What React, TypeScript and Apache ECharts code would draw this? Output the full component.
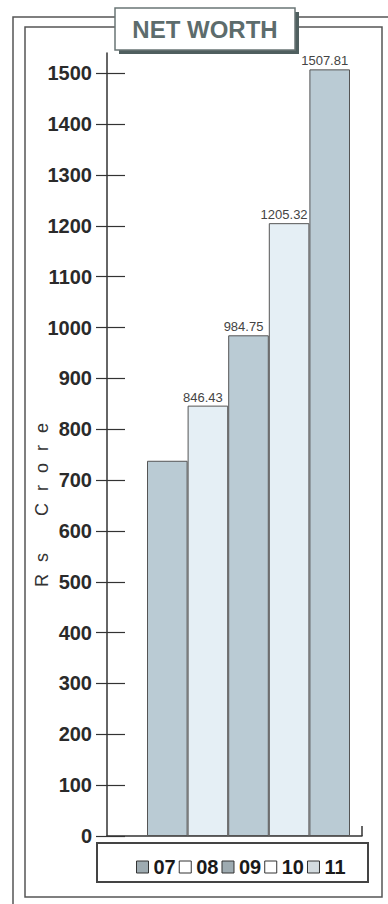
import React, { useEffect, useRef } from "react";
import * as echarts from "echarts";

const categories = ["07", "08", "09", "10", "11"];
const netWorth = [738, 846.43, 984.75, 1205.32, 1507.81];
const showValueLabel = [false, true, true, true, true];
const barColors = ["#bacbd4", "#e5eff5", "#bacbd4", "#e5eff5", "#bacbd4"];
const legendIconColors = ["#9eabb1", "#ffffff", "#9eabb1", "#ffffff", "#d3dbdf"];
const yTicks = [0, 100, 200, 300, 400, 500, 600, 700, 800, 900, 1000, 1100, 1200, 1300, 1400, 1500];
const yMax = 1540;
const titleText = "NET WORTH";
const axisName = "Rs Crore";

const FONT = "'Liberation Sans', Arial, sans-serif";

export default function App() {
  const ref = useRef<HTMLDivElement>(null);
  useEffect(() => {
    if (!ref.current) return;
    const chart = echarts.init(ref.current, null, { renderer: "svg" });

    const series = categories.map((name, i) => ({
      name,
      type: "bar",
      xAxisIndex: 0,
      yAxisIndex: 2,
      barWidth: "100%",
      barGap: "-100%",
      data: categories.map((_, j) => (j === i ? netWorth[i] : "-")),
      itemStyle: { color: barColors[i], borderColor: "#555", borderWidth: 1 },
      label: {
        show: showValueLabel[i],
        position: "top",
        distance: 2,
        offset: [-5, 0],
        fontFamily: FONT,
        fontSize: 13,
        color: "#444",
        formatter: (p: any) => String(p.value),
      },
    }));

    const nameChars = axisName.split("");
    const richText = nameChars.map((c) => (c === " " ? "{g| }" : "{c|" + c + "}")).join("");

    chart.setOption({
      animation: false,
      backgroundColor: "#ffffff",
      textStyle: { fontFamily: FONT },
      grid: [
        { left: 147, right: 38, top: 53, bottom: 68 },
        { left: 107, right: 26, top: 53, bottom: 68 },
      ],
      xAxis: [
        { type: "category", gridIndex: 0, data: categories, show: false },
        {
          type: "value",
          gridIndex: 1,
          min: 0,
          max: 1,
          axisLine: { show: true, lineStyle: { color: "#333", width: 1.5 } },
          axisTick: { show: true, inside: true, length: 10, customValues: [1], lineStyle: { color: "#333", width: 1.5 } },
          axisLabel: { show: false },
          splitLine: { show: false },
        },
      ],
      yAxis: [
        {
          type: "value",
          gridIndex: 1,
          position: "left",
          min: 0,
          max: yMax,
          axisLine: { show: true, lineStyle: { color: "#333", width: 1.5 } },
          axisTick: { show: true, length: 11, customValues: yTicks, lineStyle: { color: "#333", width: 1.2 } },
          axisLabel: {
            show: true,
            customValues: yTicks,
            margin: 15,
            fontFamily: FONT,
            fontSize: 20,
            fontWeight: "bold",
            color: "#2a2a2a",
            formatter: (v: number) => String(v),
          },
          splitLine: { show: false },
        },
        {
          type: "value",
          gridIndex: 1,
          position: "left",
          offset: 0,
          min: 0,
          max: yMax,
          axisLine: { show: false, onZero: false },
          axisTick: { show: true, inside: true, length: 18, customValues: yTicks, lineStyle: { color: "#333", width: 1.2 } },
          axisLabel: { show: false },
          splitLine: { show: false },
        },
        { type: "value", gridIndex: 0, min: 0, max: yMax, show: false },
      ],
      legend: {
        left: 131,
        top: 852,
        itemWidth: 12,
        itemHeight: 12,
        itemGap: 3,
        icon: "rect",
        selectedMode: false,
        textStyle: { fontFamily: FONT, fontSize: 20, fontWeight: "bold", color: "#1a1a1a" },
        data: categories.map((name, i) => ({
          name,
          itemStyle: { color: legendIconColors[i], borderColor: "#333", borderWidth: 1 },
        })),
      },
      graphic: [
        {
          type: "rect",
          z: -10,
          silent: true,
          shape: { x: 13, y: 17, width: 420, height: 920 },
          style: { fill: "none", stroke: "#555", lineWidth: 1.5 },
        },
        {
          type: "rect",
          z: -10,
          silent: true,
          shape: { x: 25, y: 27, width: 357, height: 870 },
          style: { fill: "none", stroke: "#555", lineWidth: 1.5 },
        },
        {
          type: "rect",
          z: 10,
          silent: true,
          shape: { x: 119, y: 12, width: 180, height: 42 },
          style: { fill: "#4f5f5f" },
        },
        {
          type: "rect",
          z: 11,
          silent: true,
          shape: { x: 115, y: 8, width: 180, height: 42 },
          style: { fill: "#ffffff", stroke: "#6a7575", lineWidth: 1.5 },
        },
        {
          type: "text",
          z: 12,
          silent: true,
          x: 205,
          y: 29,
          style: {
            text: titleText,
            fontFamily: FONT,
            fontSize: 24,
            fontWeight: "bold",
            fill: "#5d6c6c",
            align: "center",
            verticalAlign: "middle",
          },
        },
        {
          type: "rect",
          z: -5,
          silent: true,
          shape: { x: 97, y: 843, width: 271, height: 39 },
          style: { fill: "#ffffff", stroke: "#444", lineWidth: 2 },
        },
        {
          type: "text",
          silent: true,
          x: 42,
          y: 505,
          rotation: Math.PI / 2,
          style: {
            text: richText,
            align: "center",
            verticalAlign: "middle",
            fontFamily: FONT,
            fontSize: 18,
            fill: "#333",
            rich: {
              c: { fontFamily: FONT, fontSize: 18, color: "#333", padding: [0, 6] },
              g: { fontFamily: FONT, fontSize: 18, color: "#333", padding: [0, 10] },
            },
          },
        },
      ],
      series,
    });
    return () => chart.dispose();
  }, []);

  return (
    <div
      ref={ref}
      style={{ position: "absolute", left: 0, top: 0, width: 388, height: 904, background: "#fff" }}
    />
  );
}
